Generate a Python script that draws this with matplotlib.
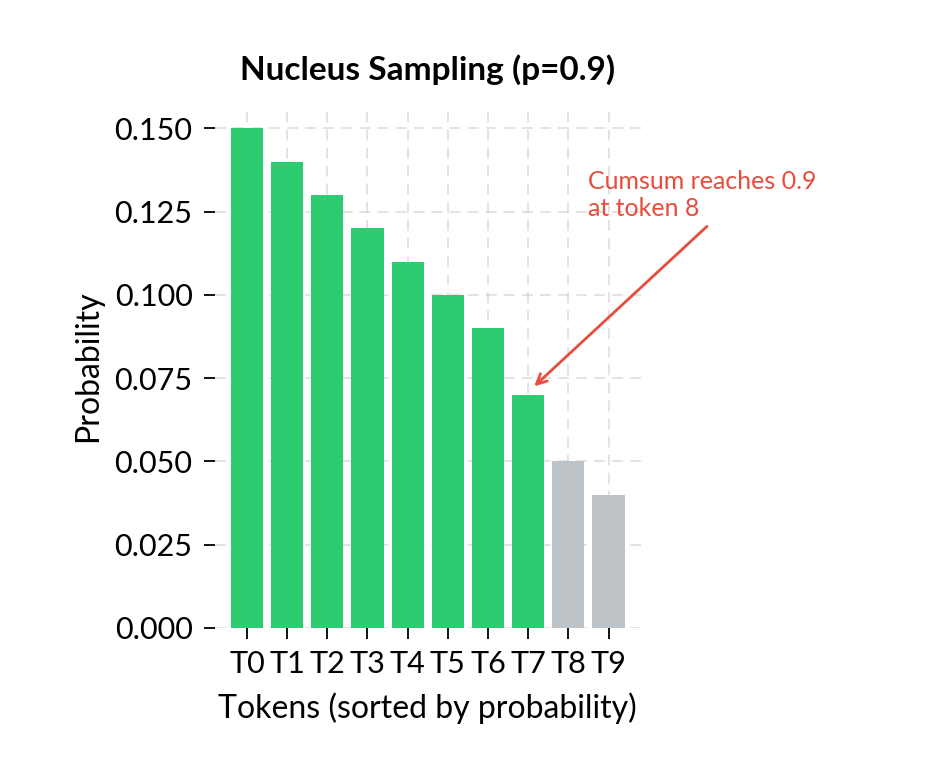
import matplotlib.pyplot as plt
import numpy as np

tokens = ['T0', 'T1', 'T2', 'T3', 'T4', 'T5', 'T6', 'T7', 'T8', 'T9']
probs = [0.15, 0.14, 0.13, 0.12, 0.11, 0.10, 0.09, 0.07, 0.05, 0.04]
n_kept = 8

plt.rcParams['font.family'] = ['Lato', 'DejaVu Sans']

colors = ['#2ecc71' if i < n_kept else '#bdc3c7' for i in range(len(tokens))]

fig = plt.figure(figsize=(9.38, 7.84), dpi=100)
ax = fig.add_axes([0.229, 0.199, 0.454, 0.667])
ax.bar(range(len(tokens)), probs, color=colors, width=0.8, zorder=2)
ax.set_xticks(range(len(tokens)))
ax.set_xticklabels(tokens)
ax.set_yticks(np.arange(0, 0.151, 0.025))
ax.set_yticklabels([f'{v:.3f}' for v in np.arange(0, 0.151, 0.025)])
ax.set_ylim(0, 0.157)
ax.set_xlim(-0.8, 9.8)
ax.grid(True, linestyle=(0, (6, 4)), color='#cccccc', alpha=0.6, lw=1.3, zorder=0)
for s in ax.spines.values():
    s.set_visible(False)
ax.tick_params(labelsize=22, length=8, width=1.3, pad=8)
ax.set_xlabel('Tokens (sorted by probability)', fontsize=23, labelpad=10)
ax.set_ylabel('Probability', fontsize=23, labelpad=8)
ax.set_title('Nucleus Sampling (p=0.9)', fontsize=24, fontweight='bold', pad=18)

ax.annotate('Cumsum reaches 0.9\nat token 8', xy=(7.1, 0.072), xytext=(8.5, 0.1375),
            fontsize=18, color='#e74c3c', va='top', ha='left',
            arrowprops=dict(arrowstyle='->', color='#e74c3c', lw=2,
                            shrinkA=4, shrinkB=2,
                            relpos=(0.55, 0.0)),
            annotation_clip=False)

fig.savefig('out.png', dpi=100)
